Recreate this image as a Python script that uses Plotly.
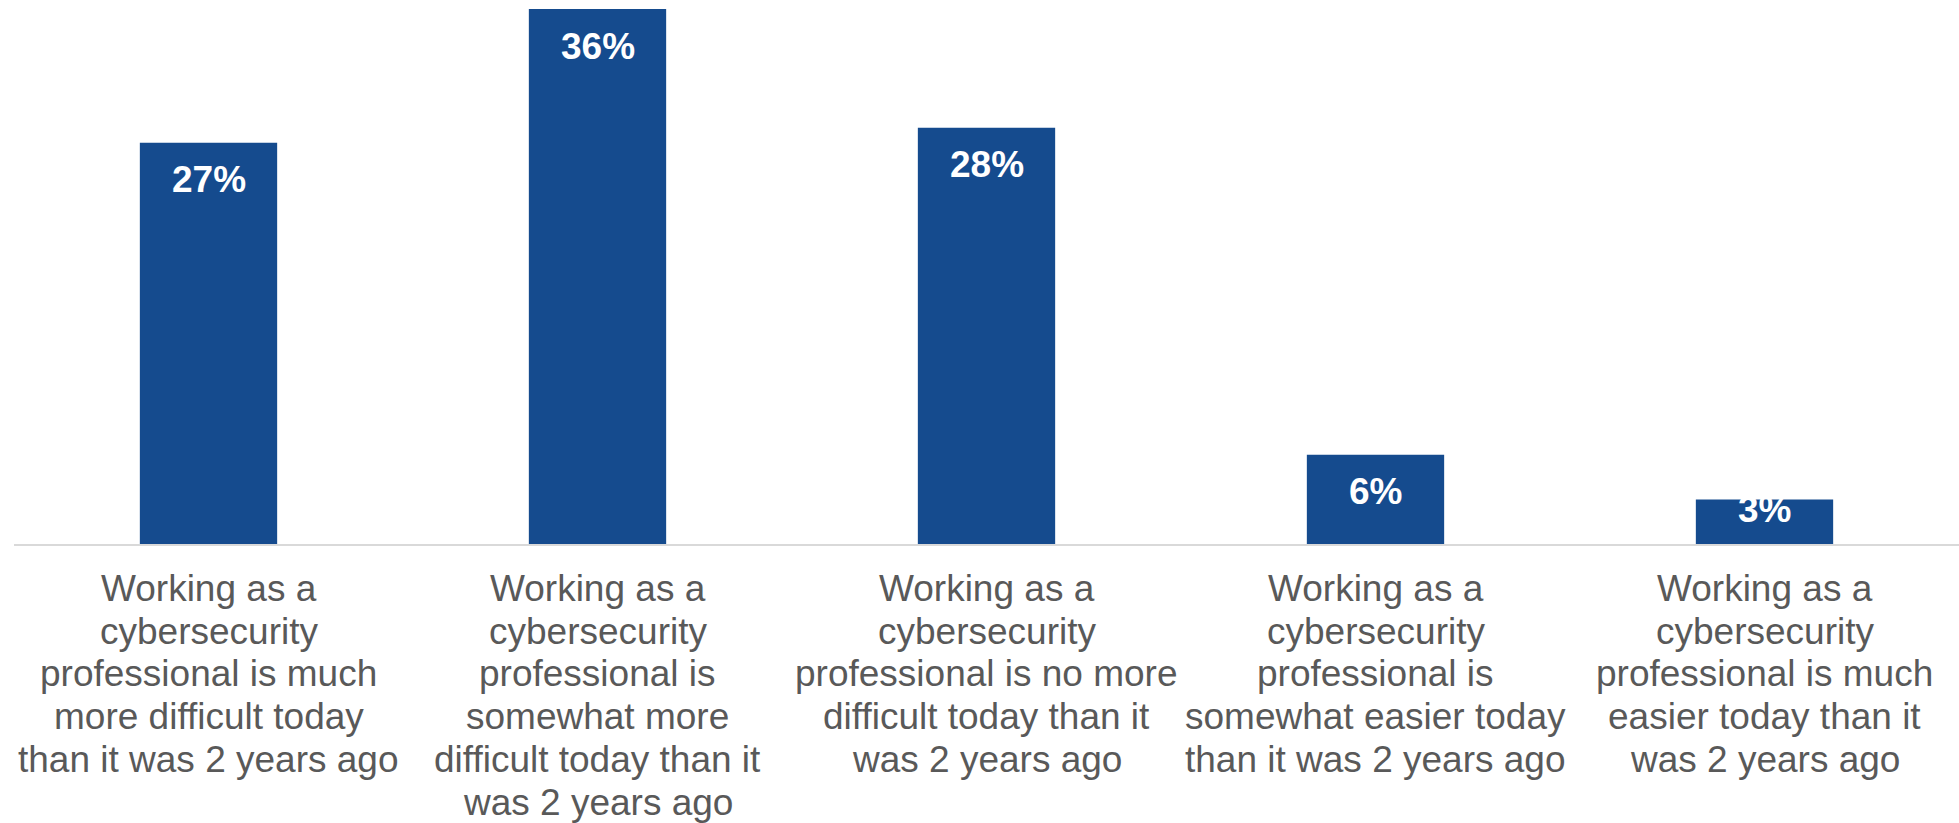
import plotly.graph_objects as go

# Survey responses: how working in cybersecurity compares with two years ago
categories = [
    "Much more difficult",
    "Somewhat more difficult",
    "No more difficult",
    "Somewhat easier",
    "Much easier",
]
# Wrapped category labels shown under the axis, one list of lines per bar
label_lines = [
    ["Working as a", "cybersecurity", "professional is much", "more difficult today", "than it was 2 years ago"],
    ["Working as a", "cybersecurity", "professional is", "somewhat more", "difficult today than it", "was 2 years ago"],
    ["Working as a", "cybersecurity", "professional is no more", "difficult today than it", "was 2 years ago"],
    ["Working as a", "cybersecurity", "professional is", "somewhat easier today", "than it was 2 years ago"],
    ["Working as a", "cybersecurity", "professional is much", "easier today than it", "was 2 years ago"],
]
shares = [27, 36, 28, 6, 3]

BAR_COLOR = "#154B8E"
TEXT_GRAY = "#595959"
FONT = "Liberation Sans, Arial, sans-serif"
LABEL_SIZE = 37
LINE_STEP = 42.7  # px between wrapped label lines

fig = go.Figure(
    go.Bar(
        x=categories,
        y=shares,
        marker=dict(color=BAR_COLOR, line=dict(width=0)),
        hoverinfo="skip",
    )
)

# Value labels sit just inside the top of each bar
for cat, v in zip(categories, shares):
    offset = 2.5 if v > 5 else 0.7
    fig.add_annotation(
        x=cat,
        y=v - offset,
        text=f"{v}%",
        showarrow=False,
        yanchor="middle",
        font=dict(family=FONT, size=37, color="white", weight="bold"),
    )

# Category labels below the axis, with tight line spacing
for cat, lines in zip(categories, label_lines):
    for i, line in enumerate(lines):
        fig.add_annotation(
            x=cat,
            y=0,
            yref="y",
            text=line,
            showarrow=False,
            yanchor="top",
            yshift=-22 - i * LINE_STEP,
            font=dict(family=FONT, size=LABEL_SIZE, color=TEXT_GRAY),
        )

fig.update_layout(
    width=1959,
    height=823,
    margin=dict(l=14, r=0, t=0, b=279),
    paper_bgcolor="white",
    plot_bgcolor="white",
    bargap=0.647,
    showlegend=False,
    font=dict(family=FONT, color=TEXT_GRAY),
)
fig.update_xaxes(
    showline=True,
    linecolor="#D9D9D9",
    linewidth=2,
    showgrid=False,
    ticks="",
    showticklabels=False,
)
fig.update_yaxes(
    range=[0, 36.6],
    visible=False,
    showgrid=False,
    zeroline=False,
)

fig.write_html("out.html")
